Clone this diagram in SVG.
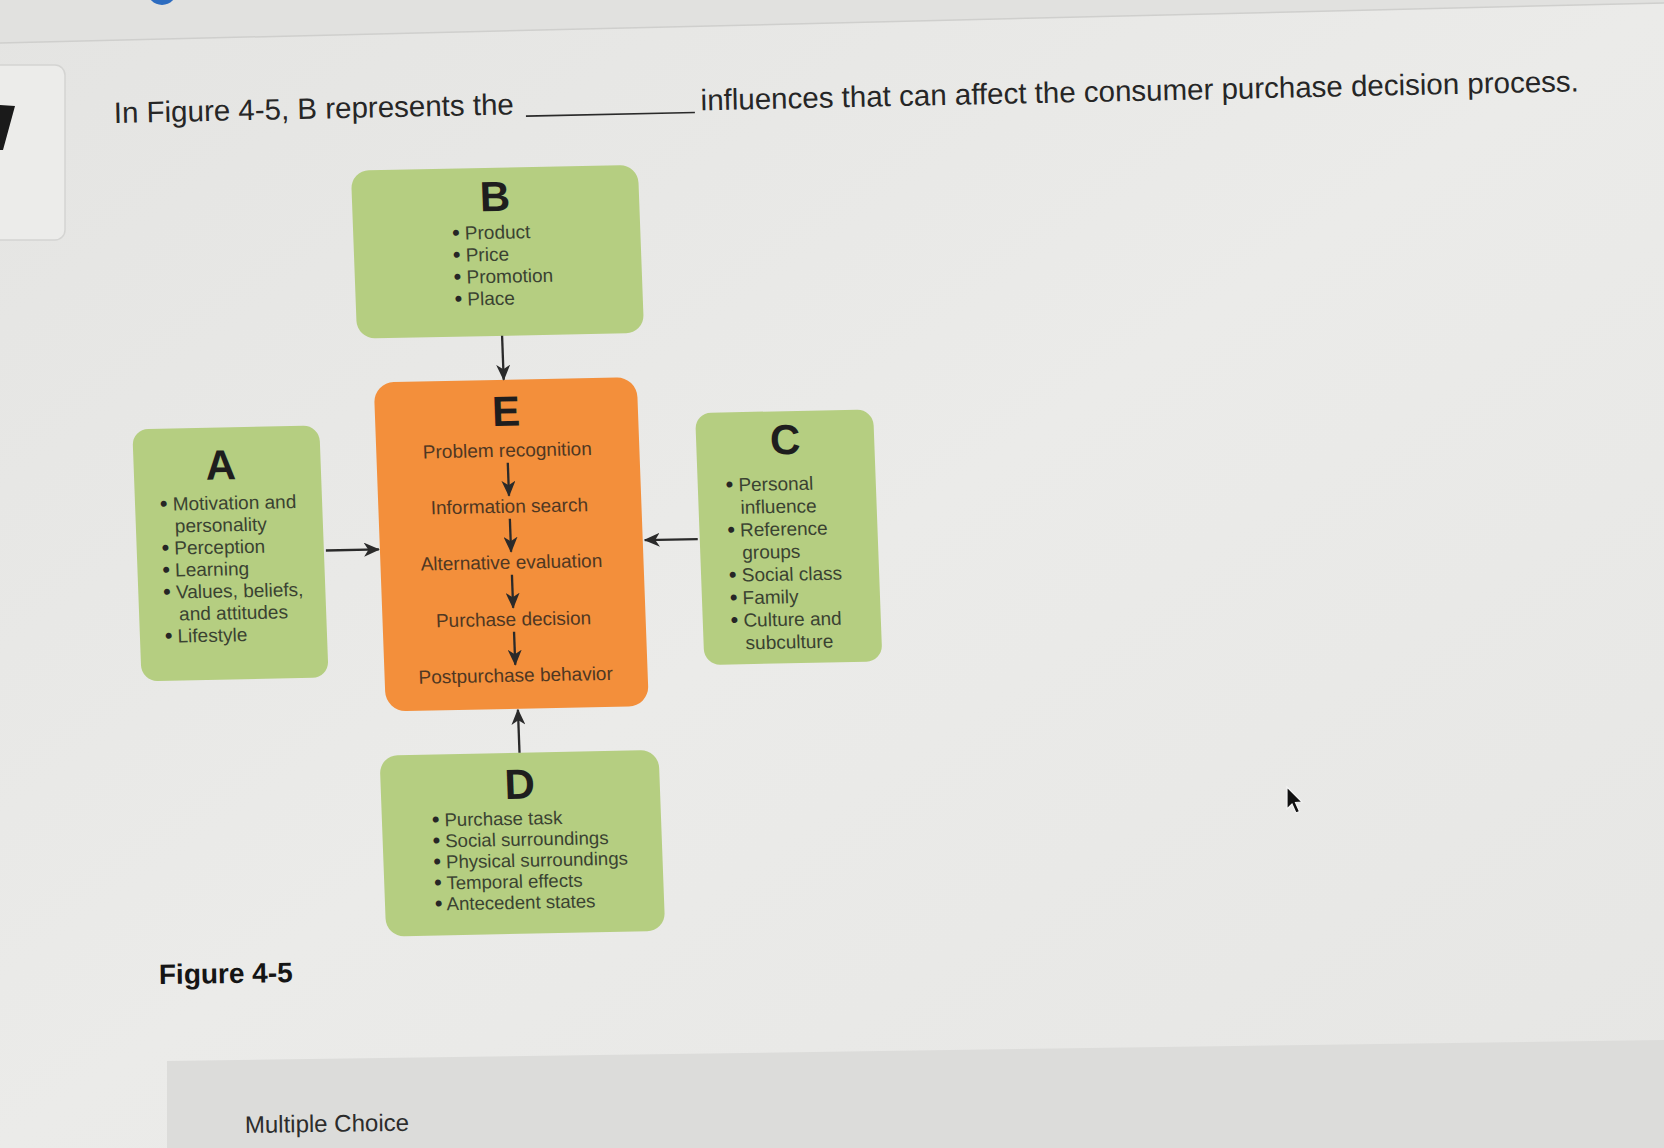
<svg xmlns="http://www.w3.org/2000/svg" width="1664" height="1148" viewBox="0 0 1664 1148">
  <defs>
    <linearGradient id="bg" x1="0" y1="0" x2="1" y2="1">
      <stop offset="0" stop-color="#e4e4e2"/>
      <stop offset="0.5" stop-color="#ebebe9"/>
      <stop offset="1" stop-color="#e6e6e4"/>
    </linearGradient>
    <marker id="ah" viewBox="0 0 16 14" markerWidth="16" markerHeight="14" refX="15" refY="7" orient="auto" markerUnits="userSpaceOnUse">
      <path d="M0,0 L16,7 L0,14 L4.5,7 Z" fill="#2a2a2a"/>
    </marker>
    <style>
      .sans{font-family:"Liberation Sans",Arial,"Noto Sans",sans-serif}
      .q{font-size:29.5px;fill:#262626}
      .green{fill:#b5ce81}
      .orange{fill:#f38f3b}
      .ltr{font-weight:700;font-size:42px;fill:#1e1e1e;text-anchor:middle}
      .gt{font-size:19px;fill:#3a4231}
      .dt{font-size:18.6px;fill:#3a4231}
      .et{font-size:19px;fill:#4f3722;text-anchor:middle}
      .b{font-weight:700;font-size:21px;fill:#262626}
      .ar{stroke:#2a2a2a;stroke-width:2.3;fill:none;marker-end:url(#ah)}
    </style>
  </defs>

  <!-- background (photographed screen) -->
  <rect x="0" y="0" width="1664" height="1148" fill="url(#bg)"/>
  <path d="M0,0 L1664,0 L1664,3 L0,43 Z" fill="#e1e1df"/>
  <line x1="0" y1="43" x2="1664" y2="3" stroke="#cfcfcd" stroke-width="1.5"/>
  <circle cx="162" cy="-10" r="15" fill="#2d6cc0"/>
  <rect x="-10" y="65" width="75" height="175" rx="10" fill="#ececea" stroke="#d4d4d2" stroke-width="1.5"/>
  <polygon points="0,105 15,106 3,150 0,150" fill="#1a1a1a"/>

  <!-- question -->
  <g id="question" class="sans q" transform="rotate(-1.24 114 123)">
    <text x="114" y="123">In Figure 4-5, B represents the</text>
    <line x1="526" y1="125" x2="695" y2="125" stroke="#2a2a2a" stroke-width="1.6"/>
    <text x="701" y="123">influences that can affect the consumer purchase decision process.</text>
  </g>

  <!-- diagram (slightly skewed like the photo) -->
  <g id="diagram" class="sans" transform="matrix(1,-0.02,0.037,1,-20.35,10)">
    <g id="node-B">
      <rect class="green" x="365" y="168" width="287" height="168" rx="18"/>
      <text class="ltr" x="508" y="211">B</text>
      <text class="gt" x="464" y="239"><tspan class="b">•</tspan> Product</text>
      <text class="gt" x="464" y="261"><tspan class="b">•</tspan> Price</text>
      <text class="gt" x="464" y="283"><tspan class="b">•</tspan> Promotion</text>
      <text class="gt" x="464" y="305"><tspan class="b">•</tspan> Place</text>
    </g>
    <g id="node-E">
      <rect class="orange" x="380" y="380" width="263" height="329" rx="20"/>
      <text class="ltr" x="511" y="426">E</text>
      <text class="et" x="511" y="457">Problem recognition</text>
      <text class="et" x="511" y="513">Information search</text>
      <text class="et" x="511" y="569">Alternative evaluation</text>
      <text class="et" x="511" y="626">Purchase decision</text>
      <text class="et" x="511" y="682">Postpurchase behavior</text>
    </g>
    <g id="node-A">
      <rect class="green" x="137" y="422" width="187" height="252" rx="16"/>
      <text class="ltr" x="224" y="474">A</text>
      <text class="gt" x="162" y="504"><tspan class="b">•</tspan> Motivation and</text>
      <text class="gt" x="176" y="526">personality</text>
      <text class="gt" x="162" y="548"><tspan class="b">•</tspan> Perception</text>
      <text class="gt" x="162" y="570"><tspan class="b">•</tspan> Learning</text>
      <text class="gt" x="162" y="592"><tspan class="b">•</tspan> Values, beliefs,</text>
      <text class="gt" x="177" y="614">and attitudes</text>
      <text class="gt" x="162" y="636"><tspan class="b">•</tspan> Lifestyle</text>
    </g>
    <g id="node-C">
      <rect class="green" x="700" y="417" width="178" height="252" rx="16"/>
      <text class="ltr" x="789" y="460">C</text>
      <text class="gt" x="728" y="496"><tspan class="b">•</tspan> Personal</text>
      <text class="gt" x="742" y="518.6">influence</text>
      <text class="gt" x="728" y="541.2"><tspan class="b">•</tspan> Reference</text>
      <text class="gt" x="742" y="563.8">groups</text>
      <text class="gt" x="728" y="586.4"><tspan class="b">•</tspan> Social class</text>
      <text class="gt" x="728" y="609"><tspan class="b">•</tspan> Family</text>
      <text class="gt" x="728" y="631.6"><tspan class="b">•</tspan> Culture and</text>
      <text class="gt" x="742" y="654.2">subculture</text>
    </g>
    <g id="node-D">
      <rect class="green" x="372" y="753" width="279" height="181" rx="18"/>
      <text class="ltr" x="511" y="799">D</text>
      <text class="dt" x="422" y="825"><tspan class="b">•</tspan> Purchase task</text>
      <text class="dt" x="422" y="846"><tspan class="b">•</tspan> Social surroundings</text>
      <text class="dt" x="422" y="867"><tspan class="b">•</tspan> Physical surroundings</text>
      <text class="dt" x="422" y="888"><tspan class="b">•</tspan> Temporal effects</text>
      <text class="dt" x="422" y="909"><tspan class="b">•</tspan> Antecedent states</text>
    </g>
    <g id="connectors">
      <line class="ar" x1="510" y1="336" x2="510" y2="380"/>
      <line class="ar" x1="326" y1="547" x2="379" y2="547"/>
      <line class="ar" x1="698" y1="543" x2="645" y2="543"/>
      <line class="ar" x1="512" y1="753" x2="512" y2="710"/>
      <line class="ar" x1="511" y1="463" x2="511" y2="496"/>
      <line class="ar" x1="511" y1="519" x2="511" y2="552"/>
      <line class="ar" x1="511" y1="575" x2="511" y2="608"/>
      <line class="ar" x1="511" y1="632" x2="511" y2="665"/>
    </g>
  </g>

  <text class="sans" x="159" y="984" font-size="28" font-weight="700" fill="#151515" transform="rotate(-0.8 159 984)">Figure 4-5</text>

  <!-- bottom panel -->
  <polygon points="167,1061 1664,1040 1664,1148 167,1148" fill="#dcdcda"/>
  <text class="sans" x="245" y="1133" font-size="24" fill="#2c2c2c" transform="rotate(-0.8 245 1133)">Multiple Choice</text>

  <!-- mouse pointer -->
  <path d="M1287,787 L1287,809 L1292,804 L1296,813 L1299.5,811.5 L1295.5,802.5 L1302,802 Z" fill="#111" stroke="#f4f4f4" stroke-width="1.2"/>
</svg>
